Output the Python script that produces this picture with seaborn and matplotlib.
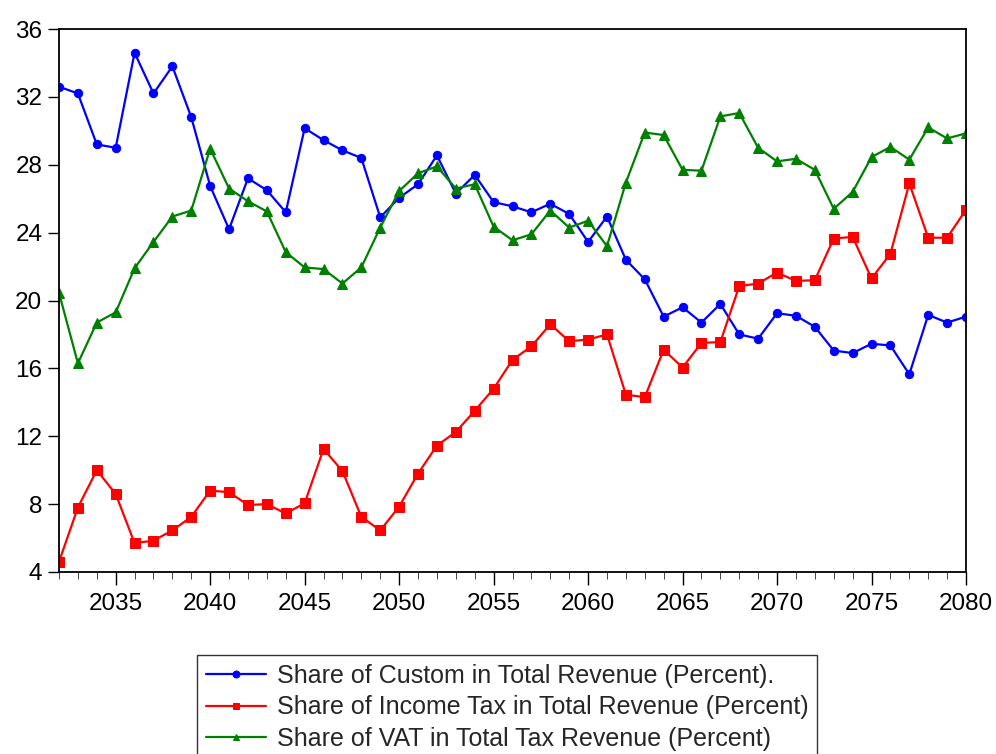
import numpy as np
import pandas as pd
import matplotlib
matplotlib.use("Agg")
import matplotlib.pyplot as plt
import seaborn as sns

years = list(range(2032, 2081))

custom = [32.6, 32.2, 29.2, 29.0, 34.6, 32.2, 33.8, 30.8, 26.75, 24.2,
          27.2, 26.5, 25.2, 30.15, 29.45, 28.85, 28.4, 24.9, 26.05, 26.85,
          28.55, 26.3, 27.4, 25.8, 25.55, 25.2, 25.7, 25.1, 23.45, 24.95,
          22.4, 21.25, 19.05, 19.6, 18.7, 19.8, 18.0, 17.75, 19.25, 19.1,
          18.45, 17.05, 16.9, 17.45, 17.35, 15.65, 19.15, 18.7, 19.05]

income_tax = [4.6, 7.8, 10.0, 8.6, 5.7, 5.85, 6.45, 7.25, 8.8, 8.7,
              7.95, 8.0, 7.45, 8.05, 11.25, 9.95, 7.25, 6.45, 7.85, 9.8,
              11.45, 12.25, 13.5, 14.8, 16.5, 17.3, 18.6, 17.6, 17.7, 18.0,
              14.45, 14.3, 17.1, 16.05, 17.5, 17.55, 20.85, 21.0, 21.65, 21.15,
              21.2, 23.65, 23.75, 21.3, 22.75, 26.9, 23.7, 23.7, 25.35]

vat = [20.45, 16.3, 18.7, 19.3, 21.9, 23.45, 24.95, 25.3, 28.95, 26.6,
       25.85, 25.25, 22.85, 21.95, 21.85, 21.0, 21.95, 24.3, 26.45, 27.5,
       27.9, 26.6, 26.85, 24.35, 23.55, 23.9, 25.3, 24.3, 24.7, 23.2,
       26.95, 29.9, 29.75, 27.7, 27.65, 30.85, 31.05, 29.0, 28.2, 28.35,
       27.7, 25.4, 26.4, 28.45, 29.05, 28.3, 30.2, 29.55, 29.85]

labels = ["Share of Custom in Total Revenue (Percent).",
          "Share of Income Tax in Total Revenue (Percent)",
          "Share of VAT in Total Tax Revenue (Percent)"]
colors = ["#0000ff", "#ff0000", "#008000"]
markers = ["o", "s", "^"]
msizes = [6, 7, 7.5]

df = pd.DataFrame({"year": years, labels[0]: custom, labels[1]: income_tax, labels[2]: vat})

sns.set_style("ticks")
plt.rcParams["font.family"] = ["Liberation Sans", "DejaVu Sans"]

fig = plt.figure(figsize=(9.96, 7.54), dpi=100)
ax = fig.add_axes([59/996, 1-572/754, (966-59)/996, (572-29)/754])

for lab, c, m, ms in zip(labels, colors, markers, msizes):
    sns.lineplot(data=df, x="year", y=lab, ax=ax, color=c, marker=m, markersize=ms,
                 markeredgecolor=c, linewidth=1.6, label=lab, legend=False)

ax.set_xlim(2032, 2080)
ax.set_ylim(4, 36)
ax.set_yticks(np.arange(4, 37, 4))
ax.set_xticks(np.arange(2035, 2081, 5))
ax.set_xticks(np.arange(2032, 2081, 1), minor=True)
ax.set_xlabel("")
ax.set_ylabel("")
ax.tick_params(axis="both", labelsize=17.5, colors="black", width=1.0)
ax.tick_params(axis="x", which="major", length=9, pad=6)
ax.tick_params(axis="x", which="minor", length=5)
ax.tick_params(axis="y", length=8, pad=4)
for s in ax.spines.values():
    s.set_visible(True)
    s.set_color("black")
    s.set_linewidth(1.3)

handles, labs = ax.get_legend_handles_labels()
leg = fig.legend(handles, labs, loc="upper left", bbox_to_anchor=(197/996, 1-655/754),
                 fontsize=18, frameon=True, fancybox=False, edgecolor="black",
                 handlelength=2.4, handletextpad=0.45, labelspacing=0.3,
                 borderpad=0.35, borderaxespad=0)
leg.get_frame().set_linewidth(1.0)
for h in leg.legend_handles:
    h.set_markersize(5)

fig.savefig("out.png", dpi=100)
